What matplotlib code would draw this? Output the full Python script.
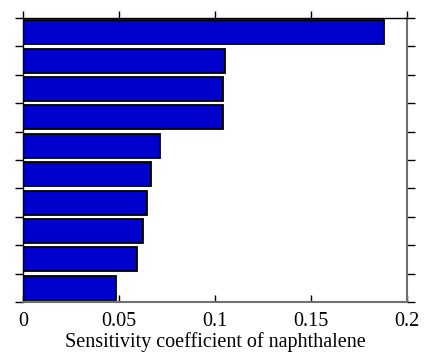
import matplotlib
matplotlib.use("Agg")
import matplotlib.pyplot as plt
import numpy as np

plt.rcParams['font.family'] = ['Liberation Serif', 'DejaVu Serif']

# Sensitivity coefficients, top bar first
values = [0.188, 0.1054, 0.1043, 0.1043, 0.0715, 0.0665, 0.0644, 0.0627, 0.0594, 0.0483]
xticks = [0, 0.05, 0.1, 0.15, 0.2]
xtick_labels = ["0", "0.05", "0.1", "0.15", "0.2"]
xlabel = "Sensitivity coefficient of naphthalene"

fig = plt.figure(figsize=(4.25, 3.53), dpi=100)
ax = fig.add_axes([0.054, 0.1445, 0.904, 0.8045])

n = len(values)
pos = np.arange(n)[::-1]
ax.barh(pos, values, height=0.84, color="#0000CC", edgecolor="black", linewidth=1.3)

ax.set_xlim(0, 0.2)
ax.set_ylim(-0.5, n - 0.5)
ax.set_xticks(xticks)
ax.set_xticklabels(xtick_labels, fontsize=14.5)
ax.set_yticks(np.arange(-0.5, n, 1.0))
ax.set_yticklabels([])
ax.set_xlabel(xlabel, fontsize=14.5, labelpad=1)

ax.tick_params(axis="x", which="both", bottom=True, top=True, length=5, width=1, pad=2)
ax.tick_params(axis="y", left=True, right=True, direction="out", length=6, width=1)

for side in ["left", "top"]:
    ax.spines[side].set_color("black")
    ax.spines[side].set_linewidth(1.0)
for side in ["right", "bottom"]:
    ax.spines[side].set_color("#707070")
    ax.spines[side].set_linewidth(1.5)

# Bottom ticks point inward, top ticks point outward
for t in ax.xaxis.get_major_ticks():
    t.tick1line.set_marker(matplotlib.lines.TICKUP)
    t.tick2line.set_marker(matplotlib.lines.TICKUP)

fig.savefig("out.png", dpi=100)
